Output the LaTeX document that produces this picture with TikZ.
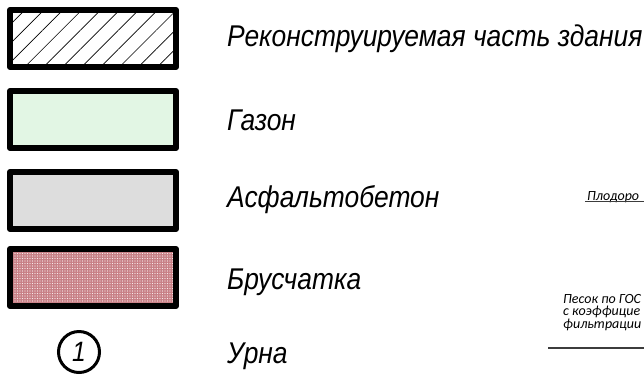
\documentclass[tikz,border=0pt]{standalone}
\usepackage{fontspec}
\setmainfont{Liberation Sans}
\newfontfamily\legendfont[FakeStretch=0.88]{Liberation Sans}
\newfontfamily\smallfont{Carlito}
\usetikzlibrary{positioning,patterns,patterns.meta}

\definecolor{lawngreen}{RGB}{226,246,228}
\definecolor{asphaltgrey}{RGB}{221,221,221}
\definecolor{pavingred}{RGB}{200,128,134}
\definecolor{leadergrey}{RGB}{60,60,60}

\begin{document}
\begin{tikzpicture}[x=1pt,y=-1pt,
		legendbox/.style={rectangle, draw, line width=6pt, line join=round, minimum width=166pt, minimum height=57pt, inner sep=0pt},
		legendtext/.style={anchor=base west, inner sep=0pt, font=\legendfont\itshape\fontsize{30}{32}\selectfont},
		notetext/.style={anchor=base west, inner sep=0pt, align=left, font=\smallfont\itshape\fontsize{14}{12.3}\selectfont}]
		\useasboundingbox (0,0) rectangle (644,376);

		% legend swatches
		\node[legendbox, pattern={Lines[angle=45,distance=13.4pt,line width=0.7pt]}] (rebuilt) at (93,38.5) {};
		\node[legendbox, fill=lawngreen] (lawn) at (93,119.5) {};
		\node[legendbox, fill=asphaltgrey] (asphalt) at (93,200.5) {};
		\node[legendbox, preaction={fill=pavingred}, pattern={Dots[distance=2.5pt,radius=0.55pt]}, pattern color=white!85!pavingred] (paving) at (93,277.5) {};
		\node[circle, draw, line width=3pt, minimum size=41pt, inner sep=0pt, font=\legendfont\itshape\fontsize{28}{30}\selectfont] (bin) at (79,352) {1};

		% legend labels
		\node[legendtext] (rebuiltlbl) at (227,46) {Реконструируемая часть здания};
		\node[legendtext] (lawnlbl) at (227,130) {Газон};
		\node[legendtext] (asphaltlbl) at (227,207) {Асфальтобетон};
		\node[legendtext] (pavinglbl) at (227,289) {Брусчатка};
		\node[legendtext] (binlbl) at (227,363) {Урна};

		% notes cut by the frame
		\node[notetext] (soil) at (587,200) {Плодоро};
		\coordinate (soilend) at (650,204);
		\draw[leadergrey, line width=1pt] (soil.south west) ++(-2,-1) coordinate (soilstart) -- (soilend |- soilstart);

		\node[notetext] (sand) at (563,328) {Песок по ГОС\\с коэффицие\\фильтрации};
		\coordinate (sandstart) at (548,348);
		\coordinate (sandend) at (650,348);
		\draw[leadergrey, line width=1.2pt] (sandstart) -- (sandend);
	\end{tikzpicture}
\end{document}
